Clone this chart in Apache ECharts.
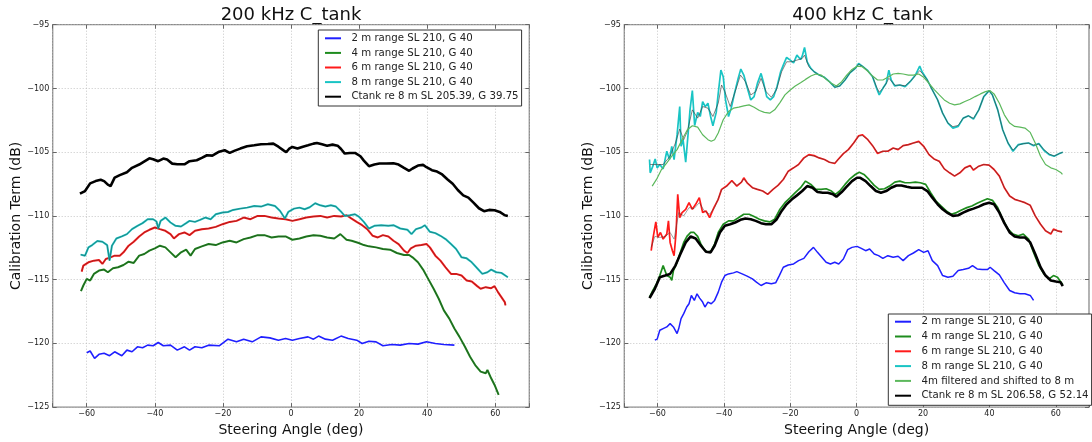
<!DOCTYPE html>
<html><head><meta charset="utf-8">
<script src="https://cdn.jsdelivr.net/npm/echarts@6/dist/echarts.min.js"></script>
<style>html,body{margin:0;padding:0;background:#fff}#c{width:1092px;height:442px}</style>
</head><body><div id="c"></div>
<script>
// ---------- data (steering angle deg, calibration term dB) ----------
const titles = ['200 kHz C_tank', '400 kHz C_tank'];
const xAxisName = 'Steering Angle (deg)';
const yAxisName = 'Calibration Term (dB)';
const names = ['2 m range SL 210, G 40','4 m range SL 210, G 40','6 m range SL 210, G 40','8 m range SL 210, G 40'];
const nameCtank200 = 'Ctank re 8 m SL 205.39, G 39.75';
const nameFilt = '4m filtered and shifted to 8 m';
const nameCtank400 = 'Ctank re 8 m SL 206.58, G 52.14';

const L_2m = [[-60,-120.73],[-59,-120.6],[-57.7,-121.18],[-56.4,-120.86],[-54.9,-120.78],[-53.3,-120.97],[-51.8,-120.66],[-49.7,-120.97],[-48.2,-120.53],[-46.7,-120.66],[-45.1,-120.27],[-43.6,-120.34],[-42.1,-120.14],[-40.5,-120.19],[-39,-119.93],[-37.5,-120.19],[-35.4,-120.14],[-33.4,-120.53],[-31.3,-120.27],[-29.8,-120.53],[-28.2,-120.27],[-26.2,-120.34],[-24.2,-120.14],[-21.1,-120.19],[-18.5,-119.67],[-16,-119.88],[-13.9,-119.67],[-11.4,-119.88],[-8.8,-119.49],[-6.2,-119.57],[-3.7,-119.75],[-1.6,-119.62],[0.4,-119.75],[2.5,-119.62],[5,-119.49],[6.6,-119.67],[8.1,-119.43],[10.1,-119.67],[12.2,-119.75],[14.7,-119.43],[16.8,-119.62],[19.3,-119.75],[20.9,-120.01],[22.9,-119.83],[25,-119.88],[27,-120.19],[29.6,-120.09],[32.1,-120.14],[34.7,-120.01],[37.3,-120.06],[39.8,-119.88],[42.4,-120.01],[44.9,-120.09],[48,-120.14]];
const L_4m = [[-61.7,-115.9],[-61,-115.46],[-60,-114.94],[-59,-115.07],[-57.9,-114.55],[-56.4,-114.29],[-54.9,-114.21],[-53.8,-114.42],[-52.3,-114.11],[-50.8,-114.03],[-49.2,-113.85],[-47.7,-113.59],[-46.2,-113.69],[-44.6,-113.12],[-43.1,-112.99],[-41.6,-112.73],[-40,-112.55],[-38.5,-112.34],[-36.9,-112.47],[-35.4,-112.86],[-33.9,-113.25],[-32.3,-112.86],[-30.8,-112.65],[-29.5,-113.12],[-28.2,-112.6],[-26.2,-112.39],[-24.2,-112.21],[-22.1,-112.29],[-20.1,-112.08],[-18,-111.95],[-16,-112.08],[-13.9,-111.82],[-11.9,-111.69],[-9.8,-111.51],[-7.8,-111.51],[-5.7,-111.69],[-3.7,-111.61],[-1.6,-111.61],[0.4,-111.87],[2.5,-111.77],[4.5,-111.61],[6.6,-111.51],[8.6,-111.56],[10.6,-111.69],[12.7,-111.77],[14.5,-111.43],[16.3,-111.87],[17.8,-111.95],[19.9,-112.13],[21.4,-112.29],[22.9,-112.39],[25,-112.47],[27,-112.6],[29.1,-112.65],[31.1,-112.91],[33.2,-113.07],[34.7,-113.07],[35.7,-113.25],[37.3,-113.64],[38.8,-114.21],[40.3,-114.94],[41.9,-115.72],[43.4,-116.5],[44.9,-117.41],[46.5,-118.06],[48,-118.84],[49.5,-119.49],[51.1,-120.27],[52.6,-121.05],[54.1,-121.7],[55.7,-122.22],[57.2,-122.35],[57.7,-122.09],[58.8,-122.74],[59.8,-123.26],[61,-124.04]];
const L_6m = [[-61.5,-114.37],[-61,-113.9],[-59.5,-113.64],[-57.9,-113.51],[-56.4,-113.46],[-55.4,-113.77],[-54.4,-113.38],[-53,-113.25],[-51.8,-113.12],[-50.3,-113.12],[-49.2,-112.86],[-47.7,-112.34],[-46.2,-112.03],[-44.6,-111.61],[-43.1,-111.3],[-41.6,-111.09],[-40,-110.91],[-38.5,-111.04],[-36.9,-111.17],[-35.4,-111.43],[-34.4,-111.77],[-32.9,-111.43],[-31.3,-111.3],[-29.8,-111.51],[-28.2,-111.17],[-26.2,-111.04],[-24.2,-110.99],[-22.1,-110.86],[-20.1,-110.65],[-18,-110.47],[-16,-110.39],[-13.9,-110.13],[-11.9,-110.26],[-9.8,-110],[-7.8,-110],[-5.7,-110.13],[-3.7,-110.21],[-1.6,-110.26],[0.4,-110.39],[2.5,-110.26],[4.5,-110.13],[6.6,-110.05],[8.6,-110],[10.6,-110.13],[12.7,-110],[14.7,-110.05],[16.3,-109.95],[17.8,-110.21],[19.3,-110.47],[20.9,-110.73],[22.4,-111.04],[24,-111.56],[25.5,-111.69],[27,-111.51],[28.6,-111.61],[30.1,-111.95],[31.6,-112.21],[33.2,-112.73],[34.2,-112.91],[35.2,-112.55],[36.7,-112.34],[38.3,-112.29],[39.8,-112.21],[40.8,-112.47],[42.4,-113.12],[43.9,-113.51],[45.4,-114.03],[47,-114.55],[48.5,-114.55],[50.1,-114.68],[51.6,-115.07],[53.1,-115.15],[54.7,-115.51],[55.7,-115.72],[57.2,-115.59],[58.8,-115.67],[59.8,-115.51],[60.8,-115.98],[61.8,-116.37],[62.8,-116.76],[63,-117.02]];
const L_8m = [[-61.8,-113.04],[-60.5,-113.12],[-59.5,-112.47],[-58.4,-112.29],[-56.9,-111.97],[-55.4,-112.03],[-54,-112.29],[-53.3,-113.51],[-52.6,-112.34],[-51.3,-111.77],[-49.7,-111.61],[-48.2,-111.43],[-46.7,-111.04],[-45.1,-110.78],[-43.6,-110.57],[-42.1,-110.26],[-40.5,-110.26],[-39.5,-110.44],[-39,-110.99],[-38.3,-110.39],[-36.9,-110.13],[-35.4,-110.52],[-33.9,-110.78],[-32.3,-110.83],[-30.8,-110.57],[-29.8,-110.39],[-28.2,-110.47],[-26.7,-110.31],[-25.2,-110.13],[-23.6,-110.26],[-22.1,-109.87],[-20.1,-109.74],[-18.5,-109.69],[-17,-109.53],[-14.9,-109.43],[-12.9,-109.35],[-10.8,-109.22],[-8.8,-109.27],[-6.8,-109.09],[-4.7,-109.22],[-3.2,-109.61],[-1.8,-110.21],[-0.8,-109.69],[0.9,-109.43],[2.5,-109.35],[4,-109.48],[5.5,-109.32],[7.1,-109.01],[8.6,-109.17],[10.1,-109.27],[11.7,-109.17],[13.2,-109.27],[14.5,-109.61],[15.8,-110],[17.3,-109.95],[18.8,-109.87],[19.9,-110.05],[21.4,-110.47],[22.9,-110.99],[24.5,-110.78],[26.5,-110.73],[28.6,-110.78],[30.1,-110.73],[32.1,-110.99],[34.2,-111.09],[35.4,-111.43],[36.7,-111.04],[38.3,-110.91],[39.3,-110.73],[40.8,-111.25],[42.4,-111.35],[43.9,-111.56],[45.4,-111.82],[47,-112.21],[48.5,-112.6],[50.1,-113.25],[51.6,-113.33],[53.1,-113.64],[54.7,-114.11],[56.2,-114.55],[57.7,-114.42],[58.8,-114.21],[60.3,-114.42],[61.8,-114.47],[63.7,-114.81]];
const L_ctank = [[-62,-108.26],[-60.5,-108.05],[-59,-107.45],[-57.4,-107.27],[-55.9,-107.17],[-54.9,-107.27],[-53.8,-107.55],[-53,-107.66],[-51.8,-107],[-50.3,-106.8],[-48.2,-106.57],[-46.7,-106.23],[-44.6,-105.97],[-41.6,-105.48],[-40.5,-105.55],[-39,-105.71],[-37.5,-105.5],[-36.4,-105.58],[-34.9,-105.9],[-33.4,-105.95],[-31.3,-105.95],[-29.8,-105.71],[-27.7,-105.63],[-26.2,-105.45],[-24.7,-105.24],[-23.1,-105.27],[-21.1,-104.96],[-19.5,-104.85],[-18,-105.06],[-16.5,-104.88],[-14.9,-104.72],[-12.9,-104.54],[-10.8,-104.46],[-8.8,-104.38],[-6.8,-104.36],[-5.2,-104.33],[-3.7,-104.57],[-2.1,-104.88],[-1.4,-105],[-0.6,-104.75],[0.4,-104.59],[1.9,-104.72],[3.5,-104.57],[5,-104.46],[6.6,-104.33],[7.6,-104.28],[9.1,-104.38],[10.6,-104.49],[12.2,-104.41],[13.7,-104.49],[14.7,-104.75],[15.8,-105.11],[17.3,-105.06],[18.8,-105.06],[20.4,-105.32],[21.4,-105.66],[22.9,-106.1],[24.5,-105.97],[26,-105.89],[28,-105.89],[30.1,-105.87],[31.6,-105.97],[33.2,-106.23],[34.7,-106.46],[35.7,-106.28],[37.3,-106.05],[38.8,-106],[39.8,-106.18],[41.4,-106.41],[42.9,-106.52],[44.4,-106.75],[46,-107.14],[47.5,-107.48],[49,-107.97],[50.6,-108.39],[52.1,-108.57],[53.6,-108.96],[55.2,-109.4],[56.7,-109.63],[58.2,-109.53],[59.8,-109.56],[61.3,-109.69],[62.8,-109.95],[63.7,-110]];

const R_2m = [[-60.8,-119.75],[-60.1,-119.67],[-59.3,-118.97],[-58.3,-118.84],[-57.2,-118.71],[-56.2,-118.45],[-55.2,-118.71],[-54.1,-119.23],[-53.6,-118.84],[-52.9,-118.06],[-52.1,-117.67],[-51.2,-117.15],[-50.5,-116.89],[-49.8,-116.24],[-48.9,-116.63],[-48.1,-116.11],[-47.3,-116.45],[-46.4,-116.76],[-45.7,-117.15],[-44.8,-116.76],[-43.8,-116.89],[-42.8,-116.63],[-41.7,-115.98],[-40.7,-115.2],[-39.7,-114.68],[-38.6,-114.55],[-37.1,-114.47],[-36.1,-114.37],[-34.5,-114.55],[-33,-114.73],[-31.4,-114.94],[-30.2,-115.2],[-28.8,-115.46],[-27.3,-115.25],[-25.7,-115.33],[-24.4,-115.25],[-23.3,-114.68],[-22.1,-114.03],[-20.6,-113.85],[-19,-113.77],[-17.5,-113.51],[-15.9,-113.33],[-14.4,-112.81],[-13,-112.47],[-11.8,-112.86],[-10.5,-113.25],[-9.2,-113.64],[-7.9,-113.77],[-6.6,-113.64],[-5.4,-113.77],[-4,-113.38],[-2.7,-112.65],[-1.4,-112.47],[0.1,-112.39],[1.4,-112.55],[2.7,-112.73],[3.9,-112.6],[5.3,-112.99],[6.6,-113.12],[7.9,-113.33],[9.4,-113.12],[11,-113.25],[12.5,-113.17],[14,-113.51],[15.6,-113.12],[17.1,-112.91],[18.7,-112.65],[20.2,-112.86],[21.5,-112.73],[22.8,-113.51],[24.4,-113.9],[25.9,-114.68],[27.5,-114.81],[29,-114.73],[30.6,-114.29],[32.1,-114.21],[33.7,-114.11],[34.9,-113.9],[36.3,-114.16],[37.8,-114.21],[39.4,-114.21],[40.2,-114.03],[41.4,-114.29],[43,-114.63],[44.5,-115.25],[46.1,-115.85],[47.6,-116.03],[49.2,-116.11],[50.7,-116.11],[52.3,-116.24],[53.3,-116.63]];
const R_4m = [[-62.4,-116.37],[-61.4,-115.85],[-60.3,-115.33],[-59.3,-114.68],[-58.3,-113.9],[-57.2,-114.68],[-56.2,-114.81],[-55.7,-115.05],[-55.2,-114.29],[-54.1,-113.64],[-53.1,-112.86],[-52.1,-112.08],[-51,-111.56],[-50,-111.3],[-49,-111.3],[-47.9,-111.61],[-46.9,-112.21],[-45.9,-112.65],[-44.8,-112.86],[-43.8,-112.73],[-42.8,-112.21],[-41.7,-111.3],[-40.2,-110.65],[-38.6,-110.39],[-37.1,-110.39],[-35.5,-110.13],[-34,-109.87],[-32.4,-109.87],[-30.9,-110.05],[-29.3,-110.26],[-27.8,-110.39],[-26.2,-110.47],[-24.7,-110.26],[-23.1,-109.48],[-21.6,-108.96],[-20,-108.57],[-18.5,-108.18],[-16.9,-107.79],[-15.4,-107.27],[-13.8,-107.53],[-12.3,-107.92],[-10.7,-107.92],[-9.2,-107.87],[-7.6,-108.05],[-6.4,-108.31],[-5.1,-108.05],[-3.5,-107.53],[-2,-107.09],[-0.4,-106.75],[0.8,-106.57],[2.2,-106.75],[3.7,-107.14],[5.3,-107.61],[6.8,-107.92],[8.4,-107.87],[9.9,-107.66],[11.5,-107.35],[13,-107.27],[14.6,-107.4],[16.1,-107.4],[17.7,-107.35],[19.2,-107.4],[20.8,-107.53],[22.3,-108.18],[23.9,-108.83],[25.4,-109.22],[27,-109.61],[28.5,-109.87],[30.1,-109.74],[31.6,-109.53],[33.2,-109.35],[34.7,-109.22],[36.3,-109.01],[37.8,-108.83],[39.4,-108.65],[40.9,-108.78],[42.5,-109.35],[44,-110.26],[45.6,-111.04],[47.1,-111.43],[48.7,-111.56],[50.2,-111.43],[51.8,-111.82],[53.3,-112.86],[54.9,-113.9],[56.4,-114.55],[58,-114.94],[59.3,-114.68],[60.5,-114.81],[62.1,-115.41]];
const R_6m = [[-61.9,-112.73],[-61.4,-111.82],[-60.5,-110.47],[-59.9,-111.69],[-59.1,-111.3],[-58.3,-111.82],[-57.2,-111.43],[-56.7,-110.39],[-56.2,-112.08],[-55.5,-112.73],[-55,-113.12],[-54.4,-111.3],[-53.9,-108.31],[-53.3,-110.13],[-52.6,-109.74],[-51.5,-109.48],[-50.5,-108.96],[-49.5,-109.48],[-48.5,-109.09],[-47.4,-108.57],[-46.4,-109.74],[-45.4,-109.61],[-44.3,-110.13],[-43,-109.35],[-41.7,-108.7],[-40.7,-107.92],[-39.2,-107.66],[-37.6,-107.22],[-36.1,-107.66],[-34.7,-107.35],[-34,-107.01],[-33,-107.4],[-31.4,-107.79],[-29.9,-107.92],[-28.3,-108.05],[-26.8,-108.31],[-25.2,-107.92],[-23.7,-107.61],[-22.1,-107.14],[-20.6,-106.49],[-19,-106.23],[-17.5,-105.97],[-15.9,-105.45],[-14.4,-105.19],[-12.8,-105.27],[-11.3,-105.45],[-9.7,-105.58],[-8.2,-105.79],[-6.6,-105.89],[-5.6,-105.58],[-4,-105.11],[-2.5,-104.8],[-0.9,-104.28],[0.6,-103.71],[1.7,-103.63],[3.2,-103.97],[4.8,-104.49],[6.3,-105.11],[7.9,-104.93],[9.4,-104.93],[11,-104.67],[12.5,-104.8],[14,-104.49],[15.6,-104.41],[17.1,-104.28],[18.7,-104.15],[20.2,-104.54],[21.8,-105.19],[23.3,-105.53],[24.9,-105.71],[26.4,-106.31],[28,-106.62],[29.5,-106.88],[31.1,-106.62],[32.6,-106.23],[34.2,-106.05],[35.2,-106.41],[36.8,-106.1],[38.3,-105.97],[39.9,-106.02],[41.4,-106.36],[43,-106.88],[44.5,-107.79],[46.1,-108.44],[47.6,-108.7],[49.2,-108.83],[50.7,-108.96],[52.3,-109.17],[53.8,-110],[55.4,-110.65],[56.9,-111.17],[58.5,-111.43],[59.3,-111.04],[60.5,-111.17],[61.9,-111.25]];
const R_6m_smooth = [[-61.9,-112.47],[-60.8,-111.61],[-59.3,-111.69],[-57.7,-111.61],[-56.2,-111.3],[-55,-111.82],[-53.6,-109.74],[-52.1,-110],[-50.5,-109.35],[-49,-109.43],[-47.4,-108.96],[-45.9,-109.61],[-44.3,-109.87],[-42.8,-109.35],[-41.2,-108.31],[-40.7,-107.95],[-39.2,-107.7],[-37.6,-107.3],[-36.1,-107.6],[-34.7,-107.35],[-34,-107.1],[-33,-107.4],[-31.4,-107.79],[-29.9,-107.92],[-28.3,-108.05],[-26.8,-108.28],[-25.2,-107.92],[-23.7,-107.61],[-22.1,-107.14],[-20.6,-106.5],[-19,-106.23],[-17.5,-105.97],[-15.9,-105.48],[-14.4,-105.25],[-12.8,-105.3],[-11.3,-105.45],[-9.7,-105.58],[-8.2,-105.79],[-6.6,-105.85],[-5.6,-105.6],[-4,-105.11],[-2.5,-104.8],[-0.9,-104.28],[0.6,-103.75],[1.7,-103.7],[3.2,-103.97],[4.8,-104.49],[6.3,-105.05],[7.9,-104.93],[9.4,-104.9],[11,-104.7],[12.5,-104.75],[14,-104.5],[15.6,-104.41],[17.1,-104.28],[18.7,-104.2],[20.2,-104.54],[21.8,-105.19],[23.3,-105.53],[24.9,-105.75],[26.4,-106.31],[28,-106.62],[29.5,-106.85],[31.1,-106.62],[32.6,-106.23],[34.2,-106.1],[35.2,-106.35],[36.8,-106.1],[38.3,-105.97],[39.9,-106.02],[41.4,-106.36],[43,-106.88],[44.5,-107.79],[46.1,-108.44],[47.6,-108.7],[49.2,-108.83],[50.7,-108.96],[52.3,-109.17],[53.8,-110],[55.4,-110.65],[56.9,-111.17],[58.5,-111.35],[59.3,-111.1],[60.5,-111.17],[61.9,-111.25]];
const R_8m = [[-62.4,-105.58],[-62.2,-106.62],[-61.4,-106.1],[-60.7,-105.53],[-60.1,-106.23],[-59.3,-105.97],[-58.3,-106.31],[-57.2,-104.93],[-56.4,-105.58],[-55.7,-104.54],[-55,-105.58],[-54.1,-103.63],[-53.3,-101.42],[-52.9,-104.54],[-52.3,-104.02],[-51.5,-105.79],[-50.8,-103.63],[-50.2,-101.68],[-49.5,-100.17],[-48.8,-102.91],[-47.9,-101.88],[-47.1,-102.2],[-46.4,-101.03],[-45.6,-101.42],[-44.8,-101.16],[-44,-102.2],[-43.3,-102.93],[-42.3,-101.88],[-41.7,-100.38],[-40.9,-98.56],[-40.2,-99.08],[-39.5,-100.9],[-38.6,-102.2],[-37.8,-101.55],[-36.8,-100.38],[-35.7,-99.21],[-34.9,-98.48],[-34,-98.95],[-33,-99.9],[-31.9,-100.9],[-30.9,-100.64],[-29.9,-99.6],[-28.8,-98.82],[-28,-99.6],[-27.1,-100.64],[-26,-100.9],[-25,-100.64],[-24,-99.86],[-22.9,-98.69],[-22.1,-98.17],[-21.1,-97.57],[-20,-97.78],[-19,-97.99],[-18,-97.39],[-16.9,-97.73],[-16.4,-97.47],[-15.7,-96.79],[-14.9,-97.91],[-13.8,-98.43],[-12.8,-98.69],[-11.3,-98.95],[-9.7,-99.13],[-8.2,-99.47],[-6.6,-99.91],[-5.1,-99.81],[-3.5,-99.34],[-2,-98.77],[-0.4,-98.43],[0.6,-98.04],[1.7,-98.25],[3.2,-98.56],[4.8,-99.08],[6,-99.99],[6.8,-100.51],[7.9,-99.99],[8.9,-99.6],[9.7,-98.56],[10.4,-99.34],[11.5,-99.81],[13,-99.73],[14.6,-99.86],[16.1,-99.47],[17.7,-98.95],[19,-98.25],[19.7,-98.69],[21.3,-99.34],[22.8,-100.12],[24.4,-100.9],[25.9,-101.94],[27.5,-102.72],[29,-103.11],[30.6,-102.98],[32.1,-102.33],[33.7,-102.15],[35.2,-102.41],[36.8,-101.68],[38.3,-100.64],[39.9,-100.17],[40.9,-100.51],[42.5,-101.68],[44,-103.24],[45.6,-104.28],[47.1,-104.93],[48.7,-104.41],[50.2,-104.33],[51.8,-104.28],[53.3,-104.49],[54.9,-104.33],[56.4,-104.85],[58,-105.19],[59.5,-105.32],[61.1,-105.11],[62.1,-105]];
const R_8m_smooth = [[-62.2,-105.97],[-60.3,-105.97],[-58.3,-105.97],[-56.2,-105.32],[-54.6,-104.28],[-53.3,-103.19],[-52.1,-104.02],[-51,-103.37],[-49.5,-101.68],[-47.9,-102.33],[-46.4,-101.42],[-44.8,-101.55],[-43.3,-102.2],[-41.7,-101.16],[-40.7,-99.73],[-39.7,-100.25],[-38.1,-101.42],[-36.6,-100.25],[-35,-98.95],[-33.5,-99.47],[-31.9,-100.51],[-30.4,-100.25],[-28.8,-99.21],[-27.3,-100.25],[-25.7,-100.69],[-24.2,-100.12],[-22.6,-98.69],[-21.1,-97.91],[-19.5,-97.91],[-18,-97.78],[-16.4,-97.65],[-15.7,-97.39],[-14.4,-98.3],[-12.8,-98.69],[-11.3,-98.95],[-9.7,-99.13],[-8.2,-99.47],[-6.6,-99.91],[-5.1,-99.81],[-3.5,-99.34],[-2,-98.77],[-0.4,-98.43],[0.6,-98.1],[1.7,-98.25],[3.2,-98.56],[4.8,-99.08],[6,-99.9],[6.8,-100.3],[7.9,-100],[8.9,-99.6],[9.7,-99.2],[10.4,-99.4],[11.5,-99.75],[13,-99.73],[14.6,-99.8],[16.1,-99.47],[17.7,-99],[19,-98.6],[19.7,-98.8],[21.3,-99.34],[22.8,-100.12],[24.4,-100.9],[25.9,-101.94],[27.5,-102.72],[29,-103],[30.6,-102.9],[32.1,-102.33],[33.7,-102.15],[35.2,-102.35],[36.8,-101.68],[38.3,-100.64],[39.9,-100.2],[40.9,-100.51],[42.5,-101.68],[44,-103.24],[45.6,-104.28],[47.1,-104.85],[48.7,-104.45],[50.2,-104.33],[51.8,-104.28],[53.3,-104.45],[54.9,-104.35],[56.4,-104.8],[58,-105.15],[59.5,-105.3],[61.1,-105.11],[62.1,-105]];
const R_4m_filt = [[-61.6,-107.66],[-60.3,-107.14],[-58.8,-106.36],[-57.2,-105.84],[-55.7,-105.32],[-54.1,-104.8],[-52.6,-104.02],[-51,-103.24],[-49.5,-102.93],[-47.9,-103.03],[-46.4,-103.63],[-44.8,-104.02],[-43.8,-104.15],[-42.8,-104.02],[-41.7,-103.5],[-40.2,-102.46],[-38.6,-101.81],[-37.1,-101.55],[-35.5,-101.47],[-34,-101.37],[-32.4,-101.29],[-30.9,-101.47],[-29.3,-101.73],[-27.8,-101.88],[-26.2,-101.94],[-24.7,-101.68],[-23.1,-101.11],[-21.6,-100.51],[-20,-100.12],[-18.5,-99.81],[-16.9,-99.55],[-15.4,-99.29],[-13.8,-99.03],[-12.3,-98.87],[-10.7,-98.95],[-9.2,-99.29],[-7.6,-99.6],[-6.1,-99.81],[-4.5,-99.47],[-3,-98.95],[-1.4,-98.51],[0.1,-98.25],[1.7,-98.3],[3.2,-98.61],[4.8,-99.03],[6.3,-99.34],[7.9,-99.34],[9.4,-99.13],[11,-98.87],[12.5,-98.82],[14,-98.87],[15.6,-98.95],[17.1,-98.95],[18.7,-98.87],[20.2,-99.13],[21.8,-99.6],[23.3,-100.07],[24.9,-100.51],[26.4,-100.9],[28,-101.16],[29.5,-101.29],[31.1,-101.21],[32.6,-101.03],[34.2,-100.85],[35.7,-100.64],[37.3,-100.43],[38.8,-100.25],[40.1,-100.17],[41.4,-100.43],[43,-101.16],[44.5,-102.07],[46.1,-102.72],[47.6,-102.98],[49.2,-103.03],[50.7,-103.11],[52.3,-103.45],[53.8,-104.28],[55.4,-105.32],[56.9,-105.97],[58.5,-106.23],[60,-106.36],[61.6,-106.62],[62,-106.75]];
const R_ctank = [[-62.4,-116.45],[-60.8,-115.72],[-59.3,-114.81],[-57.7,-114.68],[-56.2,-114.55],[-54.6,-113.9],[-53.1,-112.99],[-51.5,-112.08],[-50,-111.61],[-48.5,-111.77],[-46.9,-112.34],[-45.4,-112.81],[-44,-112.86],[-42.8,-112.34],[-41.2,-111.3],[-39.7,-110.78],[-38.1,-110.65],[-36.6,-110.52],[-35,-110.31],[-33.5,-110.21],[-31.9,-110.26],[-30.4,-110.39],[-28.8,-110.57],[-27.3,-110.65],[-25.7,-110.65],[-24.2,-110.31],[-22.6,-109.61],[-21.1,-109.09],[-19.5,-108.7],[-18,-108.39],[-16.4,-108.05],[-14.9,-107.66],[-13.3,-107.79],[-11.8,-108.13],[-10.2,-108.18],[-8.7,-108.18],[-7.1,-108.31],[-6.1,-108.49],[-4.5,-108.13],[-3,-107.71],[-1.4,-107.27],[0.1,-107.01],[1.1,-107.01],[2.7,-107.27],[4.2,-107.66],[5.8,-108.05],[7.3,-108.18],[8.9,-108.05],[10.4,-107.79],[12,-107.61],[13.5,-107.61],[15.1,-107.71],[16.6,-107.79],[18.2,-107.79],[19.7,-107.79],[21.3,-108.05],[22.8,-108.57],[24.4,-109.09],[25.9,-109.48],[27.5,-109.79],[29,-110],[30.6,-109.95],[32.1,-109.74],[33.7,-109.56],[35.2,-109.43],[36.8,-109.27],[38.3,-109.09],[39.9,-108.96],[41.4,-109.09],[43,-109.74],[44.5,-110.57],[46.1,-111.3],[47.6,-111.61],[49.2,-111.69],[50.7,-111.69],[52.3,-112.08],[53.8,-112.99],[55.4,-114.03],[56.9,-114.68],[58.5,-115.07],[60,-115.15],[61.4,-115.2],[62.1,-115.51]];

// ---------- styling / layout ----------
const FONT = '"DejaVu Sans", Verdana, sans-serif';
const C = {blue:'#1f1fff', green:'#1e8c1e', red:'#ff1a1a', cyan:'#19c4c4', black:'#000000', lgreen:'#5cb85c', dark:'#2a2a2a'};
const GRIDS = [
  {left:52.7, top:24.7, width:476.6, height:384.3},
  {left:624.3, top:24.7, width:476.6, height:384.3}
];
const fmt = v => String(v).replace('-', '\u2212');

function xAx(gi, bottom) {
  return {type:'value', gridIndex:gi, position: bottom ? 'bottom' : 'top', min:-70, max:70,
    splitNumber:7, minInterval:20, maxInterval:20,
    axisLine:{show:false, onZero:false},
    axisTick:{show:true, inside:true, length:4, lineStyle:{color:'#666', width:1}},
    axisLabel:{show:bottom, fontSize:8, color:'#222', margin:3, fontFamily:FONT,
      formatter: v => (Math.abs(v) === 70 ? '' : fmt(v))},
    splitLine:{show:bottom, lineStyle:{color:'#b8b8b8', width:0.8, type:[1,2]}},
    name: bottom ? xAxisName : '', nameLocation:'middle', nameGap:11,
    nameTextStyle:{fontSize:14, fontFamily:FONT, color:'#111', verticalAlign:'top'}};
}
function yAx(gi, left) {
  return {type:'value', gridIndex:gi, position: left ? 'left' : 'right', min:-125, max:-95, interval:5,
    axisLine:{show:false, onZero:false},
    axisTick:{show:true, inside:true, length:4, lineStyle:{color:'#666', width:1}},
    axisLabel:{show:left, fontSize:8, color:'#222', margin:3.4, fontFamily:FONT, formatter: v => fmt(v)},
    splitLine:{show:left, lineStyle:{color:'#b8b8b8', width:0.8, type:[1,2]}},
    name: left ? yAxisName : '', nameLocation:'middle', nameGap:28, nameRotate:90,
    nameTextStyle:{fontSize:14, fontFamily:FONT, color:'#111'}};
}
function ln(name, data, gi, color, width, z, opacity) {
  const ax = gi * 2;
  return {type:'line', name:name, data:data, xAxisIndex:ax, yAxisIndex:ax, showSymbol:false, symbol:'none',
    color:color, lineStyle:{color:color, width:width, opacity: opacity == null ? 1 : opacity},
    z:z, silent:true, animation:false};
}
function legend(left, top, items, pad, gap) {
  return {left:left, top:top, orient:'vertical', data:items, icon:'rect', itemWidth:16, itemHeight:2,
    itemGap:gap, padding:pad, borderColor:'#333', borderWidth:1, backgroundColor:'#fff',
    itemStyle:{borderWidth:0}, selectedMode:false, z:20,
    textStyle:{fontSize:10.2, fontFamily:FONT, color:'#222', lineHeight:12, padding:[0,0,0,5.5]}};
}

const chart = echarts.init(document.getElementById('c'), null, {renderer:'canvas'});
chart.setOption({
  backgroundColor:'#fff',
  animation:false,
  textStyle:{fontFamily:FONT},
  grid: GRIDS.map(g => Object.assign({show:true, borderColor:'#8a8a8a', borderWidth:1.3, backgroundColor:'transparent'}, g)),
  xAxis:[xAx(0,true), xAx(0,false), xAx(1,true), xAx(1,false)],
  yAxis:[yAx(0,true), yAx(0,false), yAx(1,true), yAx(1,false)],
  graphic:[
    {type:'text', x:291, y:15.5, style:{text:titles[0], font:'18px ' + FONT, fill:'#111', textAlign:'center', textVerticalAlign:'middle'}},
    {type:'text', x:862.6, y:15.5, style:{text:titles[1], font:'18px ' + FONT, fill:'#111', textAlign:'center', textVerticalAlign:'middle'}}
  ],
  legend:[
    legend(318.3, 30, [names[0], names[1], names[2], names[3], nameCtank200], [2.3,3,3.3,6.7], 2.6),
    legend(888.3, 314, [names[0], names[1], names[2], names[3], nameFilt, nameCtank400], [1.7,3,3.6,6.7], 2.8)
  ],
  series:[
    // 200 kHz
    ln(names[0], L_2m, 0, C.blue, 1.6, 3),
    ln(names[1], L_4m, 0, C.green, 2, 4),
    ln('ov4', L_4m, 0, C.dark, 0.8, 5, 0.55),
    ln(names[2], L_6m, 0, C.red, 2, 6),
    ln('ov6', L_6m, 0, C.dark, 0.8, 7, 0.5),
    ln(names[3], L_8m, 0, C.cyan, 2, 8),
    ln('ov8', L_8m, 0, C.dark, 0.8, 9, 0.5),
    ln(nameCtank200, L_ctank, 0, C.black, 2.6, 10),
    // 400 kHz
    ln(names[0], R_2m, 1, C.blue, 1.5, 3),
    ln(names[1], R_4m, 1, C.green, 1.7, 4),
    ln(names[2], R_6m, 1, C.red, 1.7, 5),
    ln('ovR6', R_6m_smooth, 1, '#3a3a3a', 0.8, 6, 0.6),
    ln(names[3], R_8m, 1, C.cyan, 1.7, 7),
    ln('ovR8', R_8m_smooth, 1, '#3a3a3a', 0.9, 8, 0.7),
    ln(nameFilt, R_4m_filt, 1, C.lgreen, 1.2, 9),
    ln(nameCtank400, R_ctank, 1, C.black, 2.6, 10)
  ]
});
</script>
</body></html>
